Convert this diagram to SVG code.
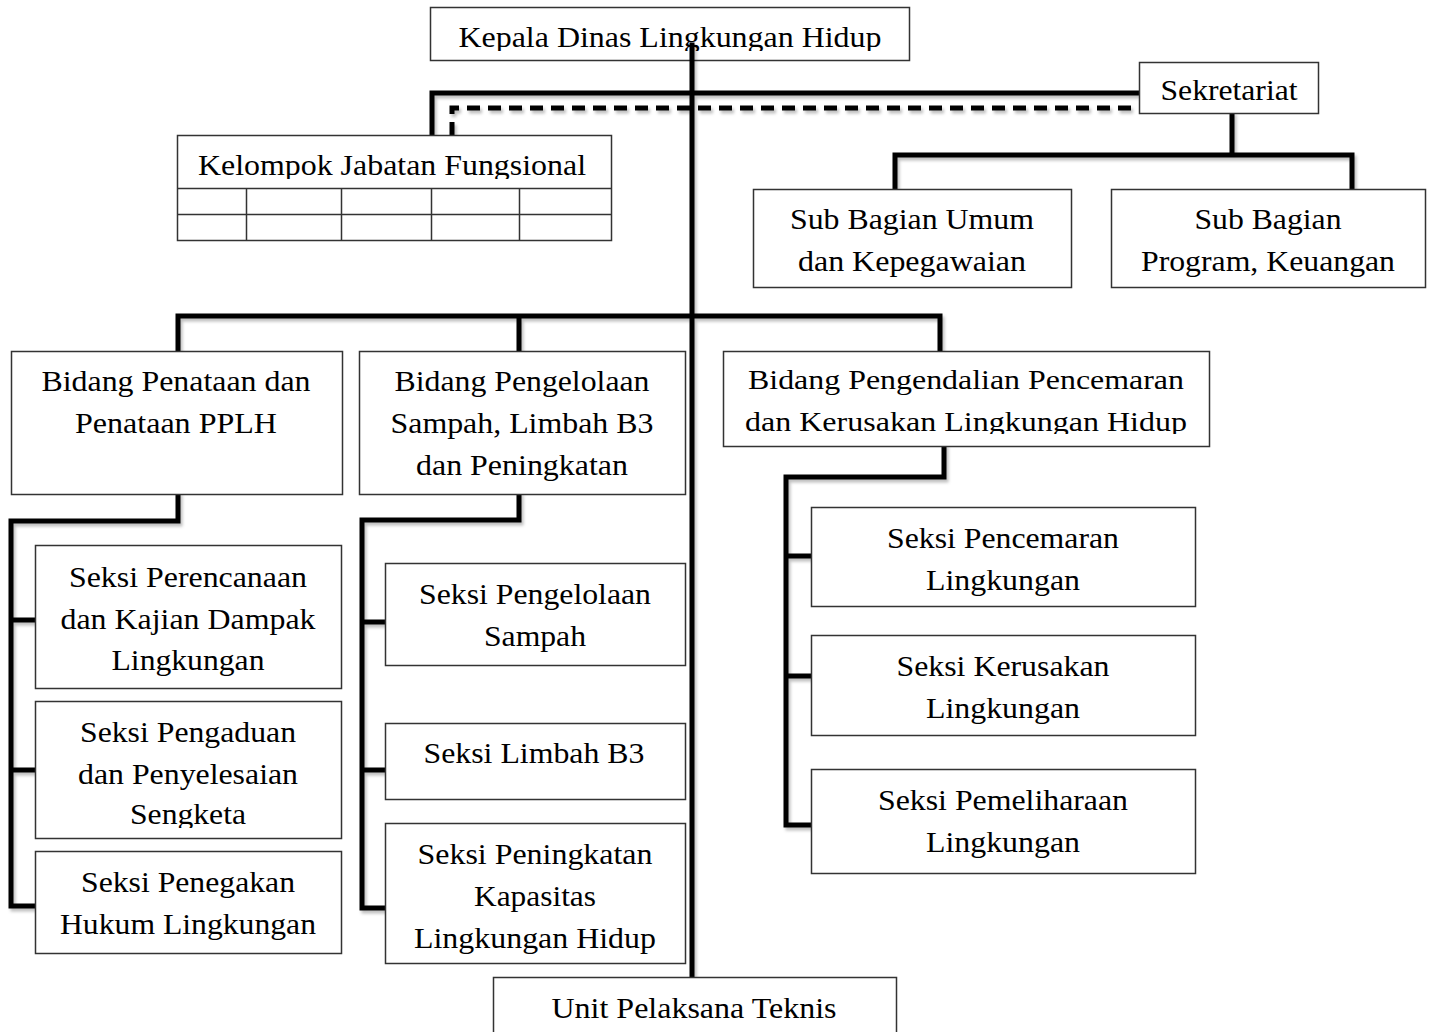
<svg xmlns="http://www.w3.org/2000/svg" width="1434" height="1032" viewBox="0 0 1434 1032">
<style>
.box{fill:#fff;stroke:#333;stroke-width:1.5}
.t{font-family:"Liberation Serif","Times New Roman",serif;font-size:30px;fill:#000;text-anchor:middle}
.w{font-size:27px}
.c{fill:none;stroke:#000;stroke-width:5;stroke-linecap:square;stroke-linejoin:miter}
.d{fill:none;stroke:#000;stroke-width:5;stroke-dasharray:13 8}
.g{fill:none;stroke:#333;stroke-width:1.5}
</style>
<defs>
<filter id="sh" x="-5%" y="-5%" width="110%" height="110%">
<feDropShadow dx="2" dy="3" stdDeviation="1.5" flood-color="#000" flood-opacity="0.25"/>
</filter>
<clipPath id="clipK"><rect x="430" y="0" width="480" height="51"/></clipPath>
<clipPath id="clipKJF"><rect x="177" y="135" width="434" height="44"/></clipPath>
<clipPath id="clipBPP"><rect x="723" y="351" width="486" height="83"/></clipPath>
<clipPath id="clipSP"><rect x="35" y="701" width="306" height="127"/></clipPath>
</defs>
<rect width="1434" height="1032" fill="#fff"/>

<g id="kepala">
<rect class="box" x="430.5" y="7.5" width="479" height="53"/>
<text class="t" x="670" y="47" textLength="423" lengthAdjust="spacingAndGlyphs" clip-path="url(#clipK)">Kepala Dinas Lingkungan Hidup</text>
</g>

<g id="connectors" filter="url(#sh)">
<path class="c" d="M692 45 V977"/>
<path class="c" d="M432 135 V93 H1139"/>
<path class="d" d="M452 135 V108 H1138"/>
<path class="c" d="M1232 114 V155 M895 189 V155 H1352 V189"/>
<path class="c" d="M178 351 V316 H940 V351 M519 316 V351"/>
<path class="c" d="M178 494 V521 H11 V906 H35 M11 620 H35 M11 770 H35"/>
<path class="c" d="M519 494 V520 H362 V908 H385 M362 622 H385 M362 770 H385"/>
<path class="c" d="M944 446 V477 H786 V825 H811 M786 556 H811 M786 676 H811"/>
</g>

<g id="sekretariat">
<rect class="box" x="1139.5" y="62.5" width="179" height="51"/>
<text class="t" x="1229" y="100" textLength="137" lengthAdjust="spacingAndGlyphs">Sekretariat</text>
</g>

<g id="kjf">
<rect class="box" x="177.5" y="135.5" width="434" height="105"/>
<path class="g" d="M177 188.5 H611 M177 214.5 H611 M246.5 188 V240 M341.5 188 V240 M431.5 188 V240 M519.5 188 V240"/>
<text class="t" x="392" y="175" textLength="388" lengthAdjust="spacingAndGlyphs" clip-path="url(#clipKJF)">Kelompok Jabatan Fungsional</text>
</g>

<g id="subbag-umum">
<rect class="box" x="753.5" y="189.5" width="318" height="98"/>
<text class="t" x="912" y="229" textLength="244" lengthAdjust="spacingAndGlyphs">Sub Bagian Umum</text>
<text class="t" x="912" y="271" textLength="228" lengthAdjust="spacingAndGlyphs">dan Kepegawaian</text>
</g>

<g id="subbag-program">
<rect class="box" x="1111.5" y="189.5" width="314" height="98"/>
<text class="t" x="1268" y="229" textLength="147" lengthAdjust="spacingAndGlyphs">Sub Bagian</text>
<text class="t" x="1268" y="271" textLength="254" lengthAdjust="spacingAndGlyphs">Program, Keuangan</text>
</g>

<g id="bidang-penataan">
<rect class="box" x="11.5" y="351.5" width="331" height="143"/>
<text class="t" x="176" y="391" textLength="269" lengthAdjust="spacingAndGlyphs">Bidang Penataan dan</text>
<text class="t" x="176" y="433" textLength="202" lengthAdjust="spacingAndGlyphs">Penataan PPLH</text>
</g>

<g id="bidang-pengelolaan">
<rect class="box" x="359.5" y="351.5" width="326" height="143"/>
<text class="t" x="522" y="391" textLength="255" lengthAdjust="spacingAndGlyphs">Bidang Pengelolaan</text>
<text class="t" x="522" y="433" textLength="263" lengthAdjust="spacingAndGlyphs">Sampah, Limbah B3</text>
<text class="t" x="522" y="475" textLength="212" lengthAdjust="spacingAndGlyphs">dan Peningkatan</text>
</g>

<g id="bidang-pengendalian">
<rect class="box" x="723.5" y="351.5" width="486" height="95"/>
<g clip-path="url(#clipBPP)">
<text class="t w" x="966" y="389" textLength="436" lengthAdjust="spacingAndGlyphs">Bidang Pengendalian Pencemaran</text>
<text class="t w" x="966" y="431" textLength="442" lengthAdjust="spacingAndGlyphs">dan Kerusakan Lingkungan Hidup</text>
</g>
</g>

<g id="seksi-perencanaan">
<rect class="box" x="35.5" y="545.5" width="306" height="143"/>
<text class="t" x="188" y="587" textLength="238" lengthAdjust="spacingAndGlyphs">Seksi Perencanaan</text>
<text class="t" x="188" y="629" textLength="255" lengthAdjust="spacingAndGlyphs">dan Kajian Dampak</text>
<text class="t" x="188" y="670" textLength="153" lengthAdjust="spacingAndGlyphs">Lingkungan</text>
</g>

<g id="seksi-pengaduan">
<rect class="box" x="35.5" y="701.5" width="306" height="137"/>
<g clip-path="url(#clipSP)">
<text class="t" x="188" y="742" textLength="216" lengthAdjust="spacingAndGlyphs">Seksi Pengaduan</text>
<text class="t" x="188" y="784" textLength="220" lengthAdjust="spacingAndGlyphs">dan Penyelesaian</text>
<text class="t" x="188" y="824" textLength="116" lengthAdjust="spacingAndGlyphs">Sengketa</text>
</g>
</g>

<g id="seksi-penegakan">
<rect class="box" x="35.5" y="851.5" width="306" height="102"/>
<text class="t" x="188" y="892" textLength="214" lengthAdjust="spacingAndGlyphs">Seksi Penegakan</text>
<text class="t" x="188" y="934" textLength="256" lengthAdjust="spacingAndGlyphs">Hukum Lingkungan</text>
</g>

<g id="seksi-pengelolaan-sampah">
<rect class="box" x="385.5" y="563.5" width="300" height="102"/>
<text class="t" x="535" y="604" textLength="232" lengthAdjust="spacingAndGlyphs">Seksi Pengelolaan</text>
<text class="t" x="535" y="646" textLength="102" lengthAdjust="spacingAndGlyphs">Sampah</text>
</g>

<g id="seksi-limbah">
<rect class="box" x="385.5" y="723.5" width="300" height="76"/>
<text class="t" x="534" y="763" textLength="221" lengthAdjust="spacingAndGlyphs">Seksi Limbah B3</text>
</g>

<g id="seksi-peningkatan">
<rect class="box" x="385.5" y="823.5" width="300" height="140"/>
<text class="t" x="535" y="864" textLength="235" lengthAdjust="spacingAndGlyphs">Seksi Peningkatan</text>
<text class="t" x="535" y="906" textLength="122" lengthAdjust="spacingAndGlyphs">Kapasitas</text>
<text class="t" x="535" y="948" textLength="242" lengthAdjust="spacingAndGlyphs">Lingkungan Hidup</text>
</g>

<g id="seksi-pencemaran">
<rect class="box" x="811.5" y="507.5" width="384" height="99"/>
<text class="t" x="1003" y="548" textLength="232" lengthAdjust="spacingAndGlyphs">Seksi Pencemaran</text>
<text class="t" x="1003" y="590" textLength="154" lengthAdjust="spacingAndGlyphs">Lingkungan</text>
</g>

<g id="seksi-kerusakan">
<rect class="box" x="811.5" y="635.5" width="384" height="100"/>
<text class="t" x="1003" y="676" textLength="213" lengthAdjust="spacingAndGlyphs">Seksi Kerusakan</text>
<text class="t" x="1003" y="718" textLength="154" lengthAdjust="spacingAndGlyphs">Lingkungan</text>
</g>

<g id="seksi-pemeliharaan">
<rect class="box" x="811.5" y="769.5" width="384" height="104"/>
<text class="t" x="1003" y="810" textLength="250" lengthAdjust="spacingAndGlyphs">Seksi Pemeliharaan</text>
<text class="t" x="1003" y="852" textLength="154" lengthAdjust="spacingAndGlyphs">Lingkungan</text>
</g>

<g id="upt">
<rect class="box" x="493.5" y="977.5" width="403" height="60"/>
<text class="t" x="694" y="1018" textLength="285" lengthAdjust="spacingAndGlyphs">Unit Pelaksana Teknis</text>
</g>
</svg>
